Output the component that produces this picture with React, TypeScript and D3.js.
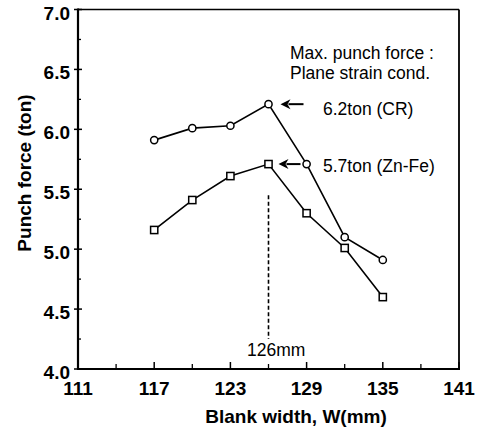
import React from "react";
import * as d3 from "d3";

const widths = [117, 120, 123, 126, 129, 132, 135];
const crForce = [5.91, 6.01, 6.03, 6.21, 5.71, 5.1, 4.91];
const znFeForce = [5.16, 5.41, 5.61, 5.71, 5.3, 5.01, 4.6];
const xTickLabels = [111, 117, 123, 129, 135, 141];
const xMinorTicks = [114, 120, 126, 132, 138];
const yTickLabels = [4.0, 4.5, 5.0, 5.5, 6.0, 6.5, 7.0];
const yMinorTicks = [4.25, 4.75, 5.25, 5.75, 6.25, 6.75];
const peakWidth = 126;
const peakLineRange = [5.45, 4.25];
const noteLines = ["Max. punch force :", "Plane strain cond."];
const crLabel = "6.2ton (CR)";
const znLabel = "5.7ton (Zn-Fe)";
const peakLabel = "126mm";
const xTitle = "Blank width, W(mm)";
const yTitle = "Punch force (ton)";

const FONT = "'Liberation Sans', Arial, Helvetica, sans-serif";

export default function App() {
  const left = 78, right = 459, top = 9.5, bottom = 369;
  const x = d3.scaleLinear().domain([111, 141]).range([left, right]);
  const y = d3.scaleLinear().domain([4, 7]).range([bottom, top]);
  const line = d3
    .line<[number, number]>()
    .x((d) => x(d[0]))
    .y((d) => y(d[1]));
  const crPts = widths.map((w, i) => [w, crForce[i]] as [number, number]);
  const znPts = widths.map((w, i) => [w, znFeForce[i]] as [number, number]);

  const arrow = (tipX: number, tipY: number, len: number) => {
    const hl = 10, hw = 5;
    return (
      <g>
        <line x1={tipX + hl - 2} y1={tipY} x2={tipX + len} y2={tipY} stroke="#000" strokeWidth={2} />
        <path
          d={`M${tipX},${tipY} L${tipX + hl},${tipY - hw} L${tipX + hl - 3},${tipY} L${tipX + hl},${tipY + hw} Z`}
          fill="#000"
        />
      </g>
    );
  };

  const crPeak = crPts[3];
  const znPeak = znPts[3];

  return (
    <svg
      width={481}
      height={431}
      style={{ position: "absolute", left: 0, top: 0, background: "#fff" }}
      fontFamily={FONT}
    >
      <rect x={0} y={0} width={481} height={431} fill="#fff" />
      {/* frame */}
      <line x1={left} y1={top} x2={right} y2={top} stroke="#000" strokeWidth={1.5} />
      <line x1={right} y1={top} x2={right} y2={bottom} stroke="#000" strokeWidth={1.8} />
      <line x1={left} y1={top - 1} x2={left} y2={bottom + 1} stroke="#000" strokeWidth={2.2} />
      <line x1={left - 1} y1={bottom} x2={right + 1} y2={bottom} stroke="#000" strokeWidth={2.2} />

      {/* y ticks */}
      {yTickLabels.map((v) => (
        <g key={"yt" + v}>
          <line x1={left - 4} x2={left + 4} y1={y(v)} y2={y(v)} stroke="#000" strokeWidth={1.5} />
          <text
            x={70}
            y={y(v) + 3.5}
            textAnchor="end"
            dominantBaseline="central"
            fontSize={19}
            fontWeight="bold"
          >
            {v.toFixed(1)}
          </text>
        </g>
      ))}
      {yMinorTicks.map((v) => (
        <line key={"ym" + v} x1={left} x2={left + 3} y1={y(v)} y2={y(v)} stroke="#000" strokeWidth={1.3} />
      ))}

      {/* x ticks */}
      {xTickLabels.map((v) => (
        <g key={"xt" + v}>
          <line x1={x(v)} x2={x(v)} y1={bottom} y2={bottom - 7} stroke="#000" strokeWidth={1.5} />
          <text x={x(v)} y={395} textAnchor="middle" fontSize={19} fontWeight="bold">
            {v}
          </text>
        </g>
      ))}
      {xMinorTicks.map((v) => (
        <line key={"xm" + v} x1={x(v)} x2={x(v)} y1={bottom} y2={bottom - 5} stroke="#000" strokeWidth={1.3} />
      ))}

      {/* axis titles */}
      <text x={296} y={423} textAnchor="middle" fontSize={19} fontWeight="bold">
        {xTitle}
      </text>
      <text
        transform={`translate(31,173) rotate(-90)`}
        textAnchor="middle"
        fontSize={19}
        fontWeight="bold"
      >
        {yTitle}
      </text>

      {/* dashed peak line */}
      <line
        x1={x(peakWidth)}
        x2={x(peakWidth)}
        y1={y(peakLineRange[0])}
        y2={y(peakLineRange[1])}
        stroke="#000"
        strokeWidth={1.6}
        strokeDasharray="4,2.5"
      />
      <text x={247} y={356} fontSize={17.5}>
        {peakLabel}
      </text>

      {/* series lines */}
      <path d={line(crPts) || ""} fill="none" stroke="#000" strokeWidth={1.6} />
      <path d={line(znPts) || ""} fill="none" stroke="#000" strokeWidth={1.6} />

      {crPts.map((p, i) => (
        <circle key={"c" + i} cx={x(p[0])} cy={y(p[1])} r={3.6} fill="#fff" stroke="#000" strokeWidth={1.5} />
      ))}
      {znPts.map((p, i) => (
        <rect
          key={"s" + i}
          x={x(p[0]) - 3.6}
          y={y(p[1]) - 3.6}
          width={7.2}
          height={7.2}
          fill="#fff"
          stroke="#000"
          strokeWidth={1.5}
        />
      ))}

      {/* annotations */}
      {noteLines.map((t, i) => (
        <text key={"n" + i} x={290} y={59 + i * 20} fontSize={17.5}>
          {t}
        </text>
      ))}
      {arrow(x(crPeak[0]) + 12, y(crPeak[1]), 23)}
      <text x={323} y={115} fontSize={17.5}>
        {crLabel}
      </text>
      {arrow(x(znPeak[0]) + 10, y(znPeak[1]), 22)}
      <text x={323} y={172} fontSize={17.5}>
        {znLabel}
      </text>
    </svg>
  );
}
